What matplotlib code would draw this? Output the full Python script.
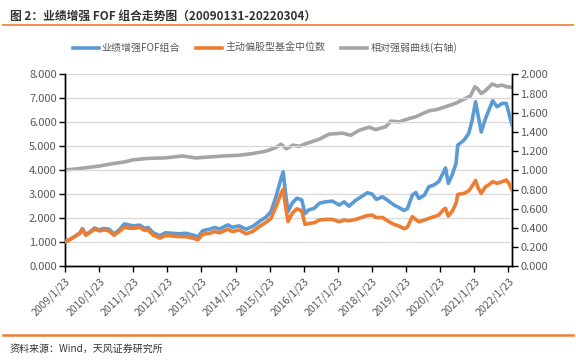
import matplotlib
matplotlib.use("Agg")
import matplotlib.pyplot as plt
from matplotlib.lines import Line2D
import pandas as pd

plt.rcParams['font.family'] = ['Noto Sans CJK SC', 'DejaVu Sans']

# 业绩增强FOF组合 / 主动偏股型基金中位数 (left axis)
dates = ['2009-01-23', '2009-03-15', '2009-05-08', '2009-07-01', '2009-07-27', '2009-09-01',
         '2009-10-20', '2009-12-05', '2010-01-23', '2010-03-15', '2010-05-08', '2010-07-01',
         '2010-08-25', '2010-10-20', '2010-11-25', '2011-01-23', '2011-04-01', '2011-05-26',
         '2011-07-01', '2011-08-25', '2011-11-06', '2012-01-01', '2012-03-15', '2012-05-26',
         '2012-08-08', '2012-10-20', '2012-12-17', '2013-02-06', '2013-04-20', '2013-06-14',
         '2013-08-08', '2013-10-31', '2013-12-20', '2014-03-03', '2014-05-15', '2014-07-24',
         '2014-10-05', '2014-12-13', '2015-02-06', '2015-04-01', '2015-05-26', '2015-06-17',
         '2015-07-13', '2015-08-08', '2015-09-20', '2015-11-10', '2016-01-01', '2016-02-06',
         '2016-03-15', '2016-05-15', '2016-07-08', '2016-09-12', '2016-11-25', '2017-02-06',
         '2017-04-01', '2017-05-22', '2017-08-04', '2017-10-12', '2017-12-05', '2018-01-26',
         '2018-03-11', '2018-05-15', '2018-07-08', '2018-09-16', '2018-11-10', '2019-01-01',
         '2019-02-06', '2019-04-01', '2019-05-08', '2019-06-10', '2019-08-08', '2019-09-24',
         '2019-11-17', '2020-01-08', '2020-03-03', '2020-03-21', '2020-04-20', '2020-05-30',
         '2020-07-12', '2020-07-30', '2020-10-05', '2020-11-25', '2021-01-01', '2021-02-06',
         '2021-03-08', '2021-04-08', '2021-05-18', '2021-06-28', '2021-08-08', '2021-09-24',
         '2021-11-17', '2022-01-01', '2022-01-30', '2022-03-04']
fof = [1.03, 1.12, 1.25, 1.40, 1.58, 1.32, 1.45, 1.60, 1.52, 1.58, 1.55, 1.35,
       1.52, 1.77, 1.74, 1.69, 1.72, 1.59, 1.62, 1.40, 1.28, 1.40, 1.38, 1.36,
       1.38, 1.31, 1.24, 1.49, 1.55, 1.62, 1.56, 1.73, 1.63, 1.69, 1.55, 1.66,
       1.87, 2.05, 2.28, 2.90, 3.67, 3.94, 3.04, 2.28, 2.63, 2.84, 2.78, 2.20,
       2.35, 2.42, 2.63, 2.69, 2.72, 2.56, 2.69, 2.51, 2.76, 2.93, 3.07, 3.01,
       2.79, 2.90, 2.76, 2.56, 2.45, 2.33, 2.40, 2.97, 3.08, 2.83, 2.97, 3.32,
       3.39, 3.53, 3.95, 4.10, 3.46, 3.80, 4.29, 5.05, 5.26, 5.54, 6.10, 6.86,
       6.24, 5.60, 6.10, 6.51, 6.90, 6.65, 6.79, 6.79, 6.37, 5.89]
median = [1.03, 1.12, 1.25, 1.38, 1.55, 1.30, 1.42, 1.55, 1.48, 1.52, 1.48, 1.30,
          1.45, 1.63, 1.60, 1.59, 1.62, 1.50, 1.52, 1.30, 1.18, 1.28, 1.27, 1.24,
          1.24, 1.18, 1.11, 1.34, 1.38, 1.45, 1.40, 1.55, 1.45, 1.52, 1.36, 1.45,
          1.66, 1.83, 2.00, 2.49, 3.04, 3.21, 2.49, 1.87, 2.20, 2.40, 2.32, 1.75,
          1.79, 1.82, 1.93, 1.96, 1.96, 1.86, 1.93, 1.90, 1.96, 2.05, 2.12, 2.14,
          2.03, 2.04, 1.90, 1.75, 1.68, 1.57, 1.63, 2.07, 1.95, 1.86, 1.93, 2.00,
          2.07, 2.14, 2.38, 2.42, 2.10, 2.28, 2.63, 3.00, 3.04, 3.15, 3.35, 3.58,
          3.25, 3.04, 3.30, 3.40, 3.53, 3.46, 3.53, 3.60, 3.45, 3.18]

# 相对强弱曲线 (right axis)
rel_dates = ['2009-01-23', '2009-07-01', '2010-01-23', '2010-06-13', '2010-10-20', '2011-01-23',
             '2011-07-01', '2012-01-01', '2012-07-01', '2012-11-25', '2013-04-20', '2013-09-12',
             '2014-03-03', '2014-07-24', '2014-12-13', '2015-04-01', '2015-05-26', '2015-07-20',
             '2015-10-01', '2015-12-05', '2016-02-06', '2016-07-08', '2016-10-23', '2017-03-15',
             '2017-06-10', '2017-09-09', '2017-12-24', '2018-03-03', '2018-06-20', '2018-08-15',
             '2018-11-10', '2019-02-24', '2019-05-05', '2019-09-24', '2019-12-24', '2020-03-21',
             '2020-07-05', '2020-09-16', '2020-12-13', '2021-01-30', '2021-02-24', '2021-04-08',
             '2021-05-22', '2021-08-04', '2021-09-24', '2021-11-17', '2022-01-08', '2022-03-04']
rel = [1.003, 1.020, 1.045, 1.070, 1.088, 1.110, 1.125, 1.130, 1.150, 1.130, 1.140, 1.150,
       1.158, 1.175, 1.200, 1.238, 1.273, 1.225, 1.263, 1.250, 1.275, 1.325, 1.378, 1.388,
       1.365, 1.418, 1.450, 1.425, 1.455, 1.513, 1.505, 1.540, 1.558, 1.620, 1.635, 1.663,
       1.698, 1.733, 1.775, 1.870, 1.855, 1.800, 1.830, 1.900, 1.878, 1.888, 1.870, 1.865]

tick_labels = ['%d/1/23' % y for y in range(2009, 2023)]

blue = '#5B9BD5'
orange = '#ED7D31'
gray = '#A5A5A5'
txt = '#595959'

fig = plt.figure(figsize=(5.76, 3.61), dpi=100)
ax = fig.add_axes([0.113, 0.262, 0.776, 0.532])
ax2 = ax.twinx()

x = pd.to_datetime(dates)
xr = pd.to_datetime(rel_dates)
l1, = ax.plot(x, fof, color=blue, lw=2.6, label='业绩增强FOF组合', zorder=3)
l2, = ax.plot(x, median, color=orange, lw=2.6, label='主动偏股型基金中位数', zorder=3)
l3, = ax2.plot(xr, rel, color=gray, lw=2.6, label='相对强弱曲线(右轴)')

ax.set_ylim(0, 8)
ax2.set_ylim(0, 2)
ax.set_yticks(range(0, 9))
ax.set_yticklabels(['%.3f' % v for v in range(0, 9)])
ax2.set_yticks([i * 0.2 for i in range(11)])
ax2.set_yticklabels(['%.3f' % (i * 0.2) for i in range(11)])
ax.set_xlim(pd.Timestamp('2009-01-23'), pd.Timestamp('2022-03-04'))
ticks = pd.to_datetime(['%d-01-23' % y for y in range(2009, 2023)])
ax.set_xticks(ticks)
ax.set_xticklabels(tick_labels, rotation=45, ha='right', rotation_mode='anchor')

ax.grid(axis='y', color='#D9D9D9', lw=0.9)
ax.set_axisbelow(True)
ax.set_zorder(ax2.get_zorder() + 1)
ax.patch.set_visible(False)

for a in (ax, ax2):
    a.spines['top'].set_visible(False)
    for s in ('left', 'right', 'bottom'):
        a.spines[s].set_color('black')
        a.spines[s].set_linewidth(1.0)
    a.tick_params(colors='black', labelcolor=txt, labelsize=8, length=4, width=1.0, direction='out')
ax.tick_params(axis='x', labelsize=7.5, pad=3)
ax.tick_params(axis='y', pad=2)
ax2.tick_params(axis='y', pad=2)

fig.text(0.017, 0.955, '图 2：业绩增强 FOF 组合走势图（20090131-20220304）',
         fontsize=8.5, fontweight='bold', color='#333333', va='center')
fig.add_artist(Line2D([0.005, 0.995], [0.93, 0.93], color='#ED7D31', lw=1.2))
fig.add_artist(Line2D([0.005, 0.995], [0.072, 0.072], color='#ED7D31', lw=1.8))
fig.text(0.017, 0.035, '资料来源：Wind，天风证券研究所', fontsize=7.2, color='#333333', va='center')

fig.legend(handles=[l1, l2, l3], loc='center', bbox_to_anchor=(0.46, 0.868), ncol=3,
           frameon=False, fontsize=7.2, handlelength=2.6, columnspacing=1.6,
           handletextpad=0.3, labelcolor=txt)

fig.savefig('out.png', dpi=100)
